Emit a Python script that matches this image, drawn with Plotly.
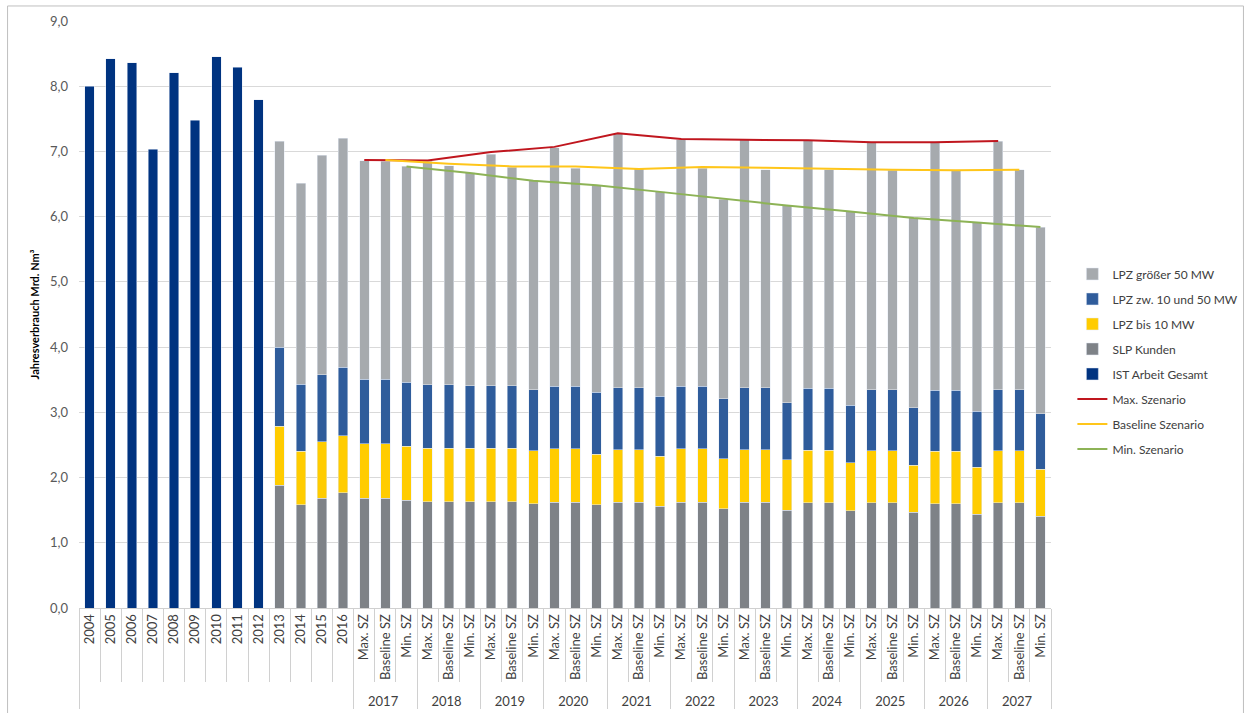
import plotly.graph_objects as go

# ---------------- data ----------------
hist_years = ["2004", "2005", "2006", "2007", "2008", "2009", "2010", "2011", "2012"]
hist_total = [8.00, 8.42, 8.36, 7.03, 8.21, 7.48, 8.45, 8.29, 7.79]

recent_years = ["2013", "2014", "2015", "2016"]
recent_slp = [1.88, 1.58, 1.68, 1.77]
recent_bis10 = [0.91, 0.82, 0.87, 0.87]
recent_10_50 = [1.21, 1.03, 1.03, 1.05]
recent_total = [7.16, 6.51, 6.94, 7.20]

fc_years = ["2017", "2018", "2019", "2020", "2021", "2022", "2023", "2024", "2025", "2026", "2027"]
scenarios = ["Max. SZ", "Baseline SZ", "Min. SZ"]

# per year: [Max, Baseline, Min] cumulative tops
fc_slp = [[1.68, 1.68, 1.65], [1.63, 1.63, 1.63], [1.63, 1.63, 1.60], [1.62, 1.62, 1.58],
          [1.62, 1.62, 1.56], [1.62, 1.62, 1.52], [1.62, 1.62, 1.50], [1.61, 1.61, 1.49],
          [1.61, 1.61, 1.47], [1.60, 1.60, 1.44], [1.61, 1.61, 1.41]]
fc_top_bis10 = [[2.52, 2.52, 2.48], [2.45, 2.45, 2.45], [2.45, 2.45, 2.41], [2.44, 2.44, 2.36],
                [2.43, 2.43, 2.33], [2.44, 2.44, 2.29], [2.43, 2.43, 2.27], [2.42, 2.42, 2.23],
                [2.41, 2.41, 2.19], [2.40, 2.40, 2.16], [2.41, 2.41, 2.13]]
fc_top_10_50 = [[3.51, 3.51, 3.46], [3.42, 3.42, 3.41], [3.41, 3.41, 3.35], [3.40, 3.40, 3.31],
                [3.38, 3.38, 3.25], [3.40, 3.40, 3.21], [3.38, 3.38, 3.15], [3.37, 3.37, 3.11],
                [3.35, 3.35, 3.07], [3.34, 3.34, 3.02], [3.35, 3.35, 2.98]]
fc_total = [[6.86, 6.85, 6.77], [6.85, 6.78, 6.67], [6.96, 6.76, 6.55], [7.06, 6.74, 6.48],
            [7.27, 6.74, 6.38], [7.18, 6.74, 6.27], [7.18, 6.72, 6.17], [7.17, 6.72, 6.08],
            [7.14, 6.71, 5.98], [7.14, 6.71, 5.91], [7.16, 6.72, 5.84]]

line_max = [6.87, 6.86, 6.99, 7.07, 7.28, 7.19, 7.18, 7.17, 7.14, 7.14, 7.16]
line_base = [6.87, 6.81, 6.77, 6.77, 6.73, 6.76, 6.75, 6.73, 6.72, 6.71, 6.72]
line_min = [6.77, 6.67, 6.55, 6.48, 6.38, 6.27, 6.17, 6.08, 5.98, 5.91, 5.84]

# ---------------- build categories ----------------
BLANK = " "
outer_hist = [BLANK] * len(hist_years)
outer_recent = [BLANK] * len(recent_years)
outer_fc, inner_fc = [], []
for y in fc_years:
    for s in scenarios:
        outer_fc.append(y)
        inner_fc.append(s)

def flat(lst):
    return [v for row in lst for v in row]

slp_fc = flat(fc_slp)
bis10_fc = [t - b for t, b in zip(flat(fc_top_bis10), slp_fc)]
m10_50_fc = [t - b for t, b in zip(flat(fc_top_10_50), flat(fc_top_bis10))]
gt50_fc = [t - b for t, b in zip(flat(fc_total), flat(fc_top_10_50))]

recent_gt50 = [t - (a + b + c) for t, a, b, c in zip(recent_total, recent_slp, recent_bis10, recent_10_50)]

x_seg = [outer_recent + outer_fc, recent_years + inner_fc]
x_hist = [outer_hist, hist_years]

C_NAVY = "#003380"
C_GT50 = "#A6AAAE"
C_1050 = "#2F5C9B"
C_BIS10 = "#FFCC00"
C_SLP = "#7E8287"

font_family = "Lato, 'Open Sans', Arial, sans-serif"

fig = go.Figure()

all_outer = outer_hist + outer_recent + outer_fc
all_inner = hist_years + recent_years + inner_fc

# invisible helper trace to fix category order
fig.add_trace(go.Bar(x=[all_outer, all_inner], y=[0] * len(all_inner), showlegend=False,
                     hoverinfo="skip", marker_color="rgba(0,0,0,0)"))

fig.add_trace(go.Bar(name="IST Arbeit Gesamt", x=x_hist, y=hist_total,
                     marker_color=C_NAVY, legendrank=5, legendgroup="g5"))
fig.add_trace(go.Bar(name="SLP Kunden", x=x_seg, y=recent_slp + slp_fc,
                     marker_color=C_SLP, legendrank=4, legendgroup="g4"))
fig.add_trace(go.Bar(name="LPZ bis 10 MW", x=x_seg, y=recent_bis10 + bis10_fc,
                     marker_color=C_BIS10, legendrank=3, legendgroup="g3"))
fig.add_trace(go.Bar(name="LPZ zw. 10 und 50 MW", x=x_seg, y=recent_10_50 + m10_50_fc,
                     marker_color=C_1050, legendrank=2, legendgroup="g2"))
fig.add_trace(go.Bar(name="LPZ größer 50 MW", x=x_seg, y=recent_gt50 + gt50_fc,
                     marker_color=C_GT50, legendrank=1, legendgroup="g1"))

fig.add_trace(go.Scatter(name="Max. Szenario", x=[fc_years, ["Max. SZ"] * len(fc_years)], y=line_max,
                         mode="lines", line=dict(color="#C0161E", width=2), legendrank=6, legendgroup="g6"))
fig.add_trace(go.Scatter(name="Baseline Szenario", x=[fc_years, ["Baseline SZ"] * len(fc_years)], y=line_base,
                         mode="lines", line=dict(color="#FFC61A", width=2), legendrank=7, legendgroup="g7"))
fig.add_trace(go.Scatter(name="Min. Szenario", x=[fc_years, ["Min. SZ"] * len(fc_years)], y=line_min,
                         mode="lines", line=dict(color="#8DB356", width=2), legendrank=8, legendgroup="g8"))

fig.update_layout(
    width=1255, height=713,
    barmode="stack", bargap=0.55,
    paper_bgcolor="white", plot_bgcolor="white",
    margin=dict(l=79, r=197, t=21, b=105),
    separators=", ",
    font=dict(family=font_family, color="#404040", size=12),
    legend=dict(x=1.022, y=0.42, xanchor="left", yanchor="middle",
                tracegroupgap=6, itemwidth=30, font=dict(size=12, color="#404040"),
                traceorder="grouped"),
    showlegend=True,
)

fig.update_xaxes(type="multicategory", tickangle=-90, ticks="outside", ticklen=73,
                 tickcolor="#D0D0D0", showdividers=True, dividercolor="#D0D0D0", dividerwidth=1,
                 tickfont=dict(size=13, color="#404040"), showline=True, linecolor="#D0D0D0",
                 showgrid=False, automargin=False)
fig.update_yaxes(range=[0, 9], dtick=1, tickformat=".1f", showgrid=True, gridcolor="#D9D9D9",
                 tickfont=dict(size=13, color="#595959"), zeroline=False,
                 showline=False, ticks="", ticklabelstandoff=10, automargin=False,
                 title=dict(text="<b>Jahresverbrauch Mrd. Nm³</b>", font=dict(size=11, color="#000000"),
                            standoff=8))

fig.add_shape(type="rect", xref="paper", yref="paper", x0=-0.0735, x1=1.198, y0=-0.2, y1=1.0256,
              line=dict(color="#BFBFBF", width=1), fillcolor="rgba(0,0,0,0)", layer="above")

fig.write_html("out.html")
